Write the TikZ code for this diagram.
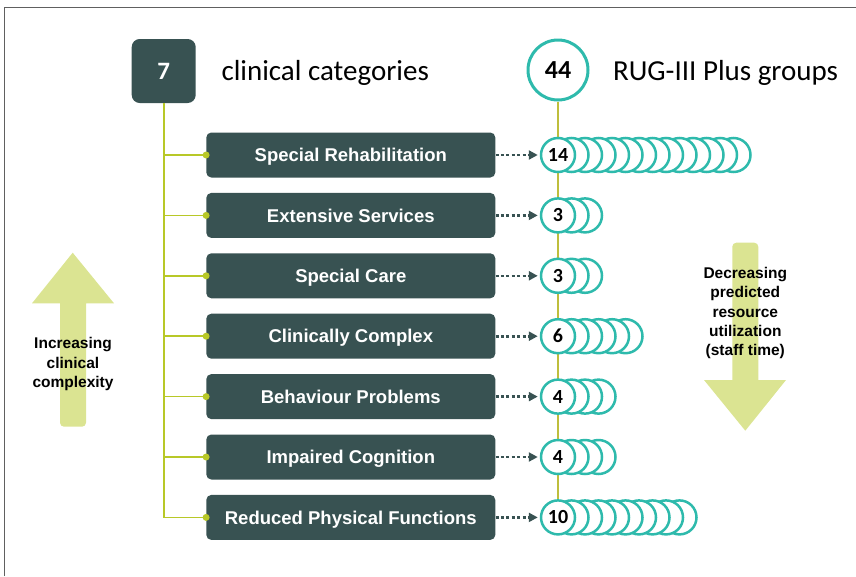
\documentclass[tikz,border=0pt]{standalone}
\usepackage{fontspec}
\setmainfont{Carlito}
\newfontfamily\labelfont{Liberation Sans}
\usetikzlibrary{positioning,arrows.meta,backgrounds}
\definecolor{slate}{RGB}{56,82,82}
\definecolor{rugteal}{RGB}{46,186,172}
\definecolor{branchgreen}{RGB}{184,200,40}
\definecolor{stemolive}{RGB}{190,190,60}
\definecolor{arrowgreen}{RGB}{219,228,146}
\definecolor{framegray}{RGB}{96,96,96}
\begin{document}
\begin{tikzpicture}[x=1pt,y=-1pt,
	catbox/.style={fill=slate, rounded corners=5pt, minimum width=289pt, minimum height=45pt, text height=13.3pt, text depth=0pt, text=white, font=\labelfont\bfseries\fontsize{18.5}{20}\selectfont},
	grp/.style={circle, draw=rugteal, line width=2.5pt, fill=white, minimum size=34pt, inner sep=0pt, text height=13pt, text depth=0pt, font=\bfseries\fontsize{20}{22}\selectfont},
	ring/.style={draw=rugteal, line width=2.5pt, fill=white},
	branch/.style={draw=branchgreen, line width=1.6pt},
	dotarrow/.style={draw=slate, line width=2.6pt, dash pattern=on 3pt off 2.4pt, -{Triangle[length=9pt,width=9pt]}, shorten >=2pt},
	bigarrow/.style={fill=arrowgreen},
	arrowtext/.style={align=center, font=\labelfont\bfseries\fontsize{15.5}{19.3}\selectfont},
	heading/.style={anchor=base west, font=\fontsize{29}{32}\selectfont}]
	\useasboundingbox (0,0) rectangle (856,576);
	\draw[framegray, line width=1.5pt] (4.3,576) -- (4.3,7.5) -- (856,7.5);

	% big arrows
	\fill[bigarrow] (60,303.3) -- (32,303.3) -- (72.7,252.7) -- (114,303.3) -- (86,303.3) [rounded corners=4pt] -- (86,426.7) -- (60,426.7) [sharp corners] -- cycle;
	\node[arrowtext] (up) at (73,364) {Increasing\\clinical\\complexity};
	\fill[bigarrow] (758.3,380) -- (786,380) -- (745.3,430.7) -- (704,380) -- (732.3,380) [rounded corners=4pt] -- (732.3,242.7) -- (758.3,242.7) [sharp corners] -- cycle;
	\node[arrowtext] (down) at (745.3,313) {Decreasing\\predicted\\resource\\utilization\\(staff time)};

	% headings
	\node[fill=slate, rounded corners=8pt, minimum size=64pt, text height=16pt, text depth=0pt, text=white, font=\bfseries\fontsize{25}{28}\selectfont] (seven) at (163.7,71) {7};
	\node[heading] (cattitle) at (218,80.5) {clinical categories};
	\node[circle, draw=rugteal, line width=3pt, fill=white, minimum size=60pt, inner sep=0pt, text height=16.5pt, text depth=0pt, font=\bfseries\fontsize{26}{28}\selectfont] (total) at (558,70) {44};
	\node[heading] (grptitle) at (609.5,80.5) {RUG-III Plus groups};

	% categories and groups
	\foreach \label/\n [count=\i] in {Special Rehabilitation/14, Extensive Services/3, Special Care/3, Clinically Complex/6, Behaviour Problems/4, Impaired Cognition/4, Reduced Physical Functions/10}{
		\pgfmathsetmacro{\y}{155+60.4*(\i-1)}
		\node[catbox] (cat\i) at (350.8,\y) {\label};
		\draw[branch] (seven.south) |- (cat\i.west);
		\fill[branchgreen] (cat\i.west) circle[radius=3.5pt];
		\foreach \k in {\n,...,2}
			\draw[ring] (558+13.5*\k-13.5,\y) circle[radius=17pt];
		\node[grp] (g\i) at (558,\y) {\n};
		\draw[dotarrow] (cat\i) -- (g\i);
	}
	\begin{scope}[on background layer]
		\draw[stemolive, line width=1.2pt] (total) -- (g7);
	\end{scope}
\end{tikzpicture}
\end{document}
